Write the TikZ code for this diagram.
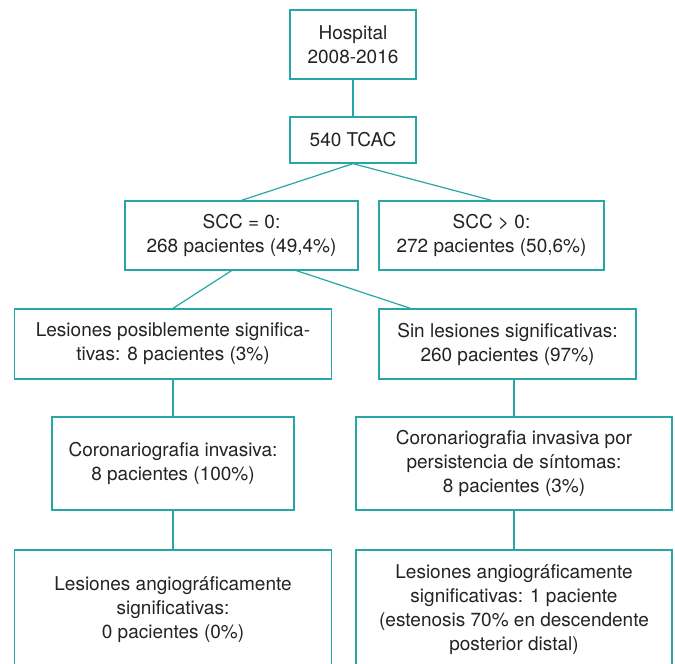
\documentclass[tikz,border=0pt]{standalone}
\usepackage{fontspec}
\setmainfont{TeX Gyre Heros}
\usetikzlibrary{calc}

\definecolor{verde}{RGB}{38,166,164}
\definecolor{texto}{RGB}{35,35,35}

\tikzset{
  caja/.style={draw=verde, line width=1.3pt, rectangle, inner sep=0pt, align=center,
    text=texto, font=\fontsize{19}{24}\selectfont},
  linea/.style={draw=verde, line width=1.2pt}
}

\begin{document}
\begin{tikzpicture}[x=1pt, y=-1pt]
    \useasboundingbox (0,0) rectangle (675,664);

    % draw boxes
    \node[caja, minimum width=126pt, minimum height=69pt] (hosp) at (353,44.5) {Hospital\\2008-2016};
    \node[caja, minimum width=126pt, minimum height=46pt] (tcac) at (353,140) {540 TCAC};

    \node[caja, minimum width=233pt, minimum height=69pt] (scc0) at (241.5,235.5) {SCC = 0:\\268 pacientes (49,4\%)};
    \node[caja, minimum width=225pt, minimum height=69pt] (sccp) at (491.5,235.5) {SCC \textgreater{} 0:\\272 pacientes (50,6\%)};

    \node[caja, minimum width=317pt, minimum height=70pt] (les) at (173,344) {Lesiones posiblemente significa-\\tivas: 8 pacientes (3\%)};
    \node[caja, minimum width=257pt, minimum height=70pt] (sin) at (507.5,344) {Sin lesiones significativas:\\260 pacientes (97\%)};

    \node[caja, minimum width=242pt, minimum height=93pt] (cor) at (173,463.5) {Coronariografia invasiva:\\8 pacientes (100\%)};
    \node[caja, minimum width=316pt, minimum height=93pt] (corp) at (514,463.5) {Coronariografia invasiva por\\persistencia de s\'intomas:\\8 pacientes (3\%)};

    \node[caja, minimum width=317pt, minimum height=120pt] (angi) at (173,610) {Lesiones angiogr\'aficamente\\significativas:\\0 pacientes (0\%)};
    \node[caja, minimum width=316pt, minimum height=120pt] (angp) at (514,610) {Lesiones angiogr\'aficamente\\significativas: 1 paciente\\(estenosis 70\% en descendente\\posterior distal)};

    % draw connectors
    \draw[linea] (hosp.south) -- (tcac.north);
    \draw[linea] (scc0.north) -- (tcac.south) -- (sccp.north);
    \draw[linea] ([xshift=-10pt]scc0.south) -- (les.north);
    \draw[linea] ([xshift=55pt]scc0.south) -- ([xshift=-97pt]sin.north);
    \draw[linea] (les.south) -- (cor.north);
    \draw[linea] (corp.north |- sin.south) -- (corp.north);
    \draw[linea] (cor.south) -- (angi.north);
    \draw[linea] (corp.south) -- (angp.north);
\end{tikzpicture}
\end{document}
